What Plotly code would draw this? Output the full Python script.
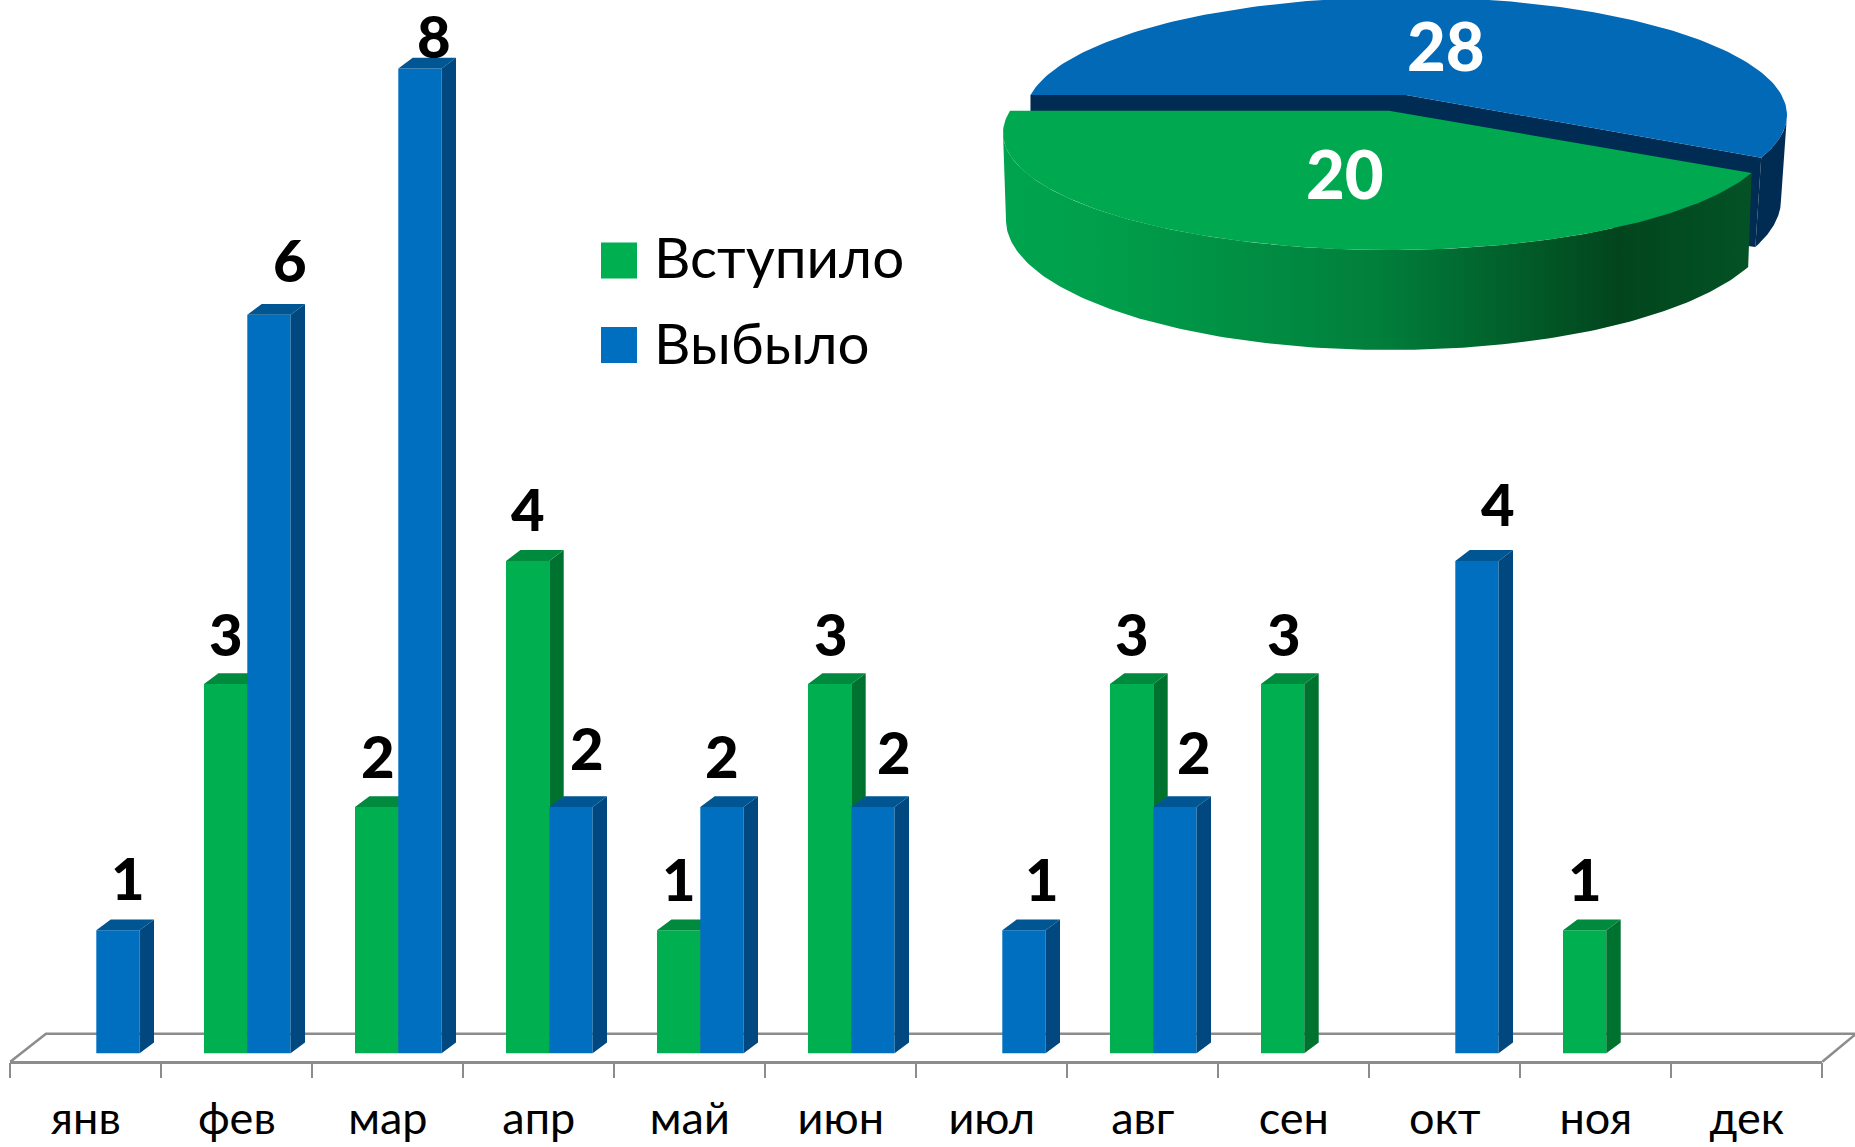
import math
import plotly.graph_objects as go

# ---------- data ----------
months = ["янв", "фев", "мар", "апр", "май", "июн", "июл", "авг", "сен", "окт", "ноя", "дек"]
joined = [None, 3, 2, 4, 1, 3, None, 3, 3, None, 1, None]
left_ = [1, 6, 8, 2, 2, 2, 1, 2, None, 4, None, None]
series_names = ["Вступило", "Выбыло"]
pie_values = [20, 28]

# label nudges (px: right, up from the top centre of each bar's front face)
joined_label_shift = [None, (0, 51), (1, 52), (0, 52), (0, 52), (1, 51), None, (0, 51), (1, 51), None, (0, 52), None]
left_label_shift = [(10, 53), (21, 55), (14, 33), (16, 60), (0, 52), (21, 56), (18, 52), (19, 56), None, (21, 57), None, None]

# ---------- styling ----------
W, H = 1855, 1147
FONT = "Lato, 'Open Sans', sans-serif"
GREEN, GREEN_SIDE, GREEN_TOP = "#00B050", "#00722F", "#008A3E"
BLUE, BLUE_SIDE, BLUE_TOP = "#006FC0", "#00487F", "#005692"
PIE_BLUE, PIE_GREEN, NAVY = "#0269B7", "#00A84F", "#002B52"
AXIS = "#8C8C8C"

X0, X1 = 10.3, 1822.3          # px extent of the axis
Y_BASE, UNIT = 1053.3, 123.1   # px of value 0, px per unit
PXCAT = (X1 - X0) / 12
BAR_W = 43.3 / PXCAT
OFF_G = -32.8 / PXCAT
OFF_B = 10.5 / PXCAT
DX = 14.4 / PXCAT              # 3-D depth in data units
DY = 10.8 / UNIT
yrange = [-(H - Y_BASE) / UNIT, Y_BASE / UNIT]
xrange_ = [-0.5, 11.5]


def faces(vals, off):
    sx, sy, tx, ty = [], [], [], []
    for i, v in enumerate(vals):
        if v is None:
            continue
        l, r = i + off, i + off + BAR_W
        sx += [r, r + DX, r + DX, r, r, None]
        sy += [0, DY, v + DY, v, 0, None]
        tx += [l, r, r + DX, l + DX, l, None]
        ty += [v, v, v + DY, v + DY, v, None]
    return sx, sy, tx, ty


def poly(x, y, color, axes):
    return go.Scatter(x=x, y=y, mode="lines", fill="toself", fillcolor=color,
                      line=dict(width=0), hoverinfo="skip", showlegend=False,
                      xaxis=axes[0], yaxis=axes[1])


fig = go.Figure()
# layer 1: green fronts (category axis carries the labels and ticks)
fig.add_trace(go.Bar(x=months, y=joined, width=BAR_W, offset=OFF_G, name=series_names[0],
                     marker=dict(color=GREEN, line=dict(width=0)), showlegend=False,
                     xaxis="x", yaxis="y"))
# layer 2: green depth faces
gs = faces(joined, OFF_G)
fig.add_trace(poly(gs[0], gs[1], GREEN_SIDE, ("x2", "y2")))
fig.add_trace(poly(gs[2], gs[3], GREEN_TOP, ("x2", "y2")))
# layer 3: blue bars and depth faces
fig.add_trace(go.Bar(x=list(range(12)), y=left_, width=BAR_W, offset=OFF_B, name=series_names[1],
                     marker=dict(color=BLUE, line=dict(width=0)), showlegend=False,
                     xaxis="x3", yaxis="y3"))
bs = faces(left_, OFF_B)
fig.add_trace(poly(bs[0], bs[1], BLUE_SIDE, ("x3", "y3")))
fig.add_trace(poly(bs[2], bs[3], BLUE_TOP, ("x3", "y3")))


# ---------- pie in perspective ----------
def pt(theta_deg, e):
    cx, cy, a, b, p = e
    t = math.radians(theta_deg)
    u, v = -math.cos(t), math.sin(t)
    w = 1 + p * v
    return cx + a * math.sqrt(1 - p * p) * u / w, cy + b * (v + p) / w


def arc(t0, t1, e, n=160):
    pts = [pt(t0 + (t1 - t0) * k / n, e) for k in range(n + 1)]
    return [q[0] for q in pts], [q[1] for q in pts]


G_TOP = (1389, 133, 386, 117, -0.19)
G_BOT = (1390, 220, 384, 130, -0.17)
B_TOP = (1406, 115, 381, 118, -0.169)
B_BOT = (1400, 200, 381, 130, -0.17)
split = 360 * pie_values[0] / sum(pie_values)
PA = ("x4", "y4")


def wall(t0_top, t1_top, t0_bot, t1_bot, top, bot):
    ax, ay = arc(t0_top, t1_top, top)
    bx, by = arc(t0_bot, t1_bot, bot)
    return ax + bx[::-1] + ax[:1], ay + by[::-1] + ay[:1]


# blue outer wall
wx, wy = wall(split, 180 - math.degrees(math.asin(0.169)), split, 180 - math.degrees(math.asin(0.17)), B_TOP, B_BOT)
fig.add_trace(poly(wx, wy, NAVY, PA))
# inner cut face
lc = pt(360, B_TOP)
sc = pt(split, B_TOP)
sb = pt(split, B_BOT)
apex_b = (B_TOP[0], B_TOP[1] + B_TOP[3] * B_TOP[4])
fig.add_trace(poly([lc[0], apex_b[0], sc[0], sb[0], apex_b[0], lc[0], lc[0]],
                   [lc[1], apex_b[1], sc[1], sb[1], 200, 112, lc[1]], NAVY, PA))
# blue top
ax, ay = arc(split, 360, B_TOP)
fig.add_trace(poly(ax + [apex_b[0], ax[0]], ay + [apex_b[1], ay[0]], PIE_BLUE, PA))
# green wall with horizontal gradient
wx, wy = wall(math.degrees(math.asin(0.19)), split, math.degrees(math.asin(0.17)), split, G_TOP, G_BOT)
t = poly(wx, wy, PIE_GREEN, PA)
t.fillgradient = dict(type="horizontal", start=1003, stop=1752,
                      colorscale=[[0, "#00A44E"], [0.12, "#00A04C"], [0.5, "#017F3B"],
                                  [0.82, "#02451D"], [1, "#035226"]])
fig.add_trace(t)
# green top
ax, ay = arc(0, split, G_TOP)
apex_g = (G_TOP[0], G_TOP[1] + G_TOP[3] * G_TOP[4])
fig.add_trace(poly(ax + [apex_g[0], ax[0]], ay + [apex_g[1], ay[0]], PIE_GREEN, PA))

# ---------- annotations ----------
ann = []
label_font = dict(family=FONT, size=58, color="black", weight=900)


def bar_labels(vals, shifts, off, xa, ya):
    for i, v in enumerate(vals):
        if v is None:
            continue
        ann.append(dict(x=i + off + BAR_W / 2, y=v, xref=xa, yref=ya, text=str(v), showarrow=False,
                        xanchor="center", yanchor="middle", xshift=shifts[i][0], yshift=shifts[i][1],
                        font=label_font))


bar_labels(joined, joined_label_shift, OFF_G, "x3", "y3")
bar_labels(left_, left_label_shift, OFF_B, "x3", "y3")

pie_font = dict(family=FONT, size=67, color="white", weight=900)
ann.append(dict(x=1345, y=173, xref="x4", yref="y4", text=str(pie_values[0]), showarrow=False, font=pie_font))
ann.append(dict(x=1446, y=45, xref="x4", yref="y4", text=str(pie_values[1]), showarrow=False, font=pie_font))

leg_font = dict(family=FONT, size=56.5, color="black")
shapes = []
for name, col, top, ymid in [(series_names[0], GREEN, 242.5, 256), (series_names[1], BLUE, 327, 342)]:
    shapes.append(dict(type="rect", xref="paper", yref="paper", x0=601 / W, x1=637 / W,
                       y0=1 - top / H, y1=1 - (top + 36) / H, fillcolor=col, line=dict(width=0)))
    ann.append(dict(x=652 / W, y=1 - ymid / H, xref="paper", yref="paper", text=name, showarrow=False,
                    xanchor="left", yanchor="middle", font=leg_font))

# floor of the 3-D plot (paper coordinates, behind the bars)
FLOOR_F, FLOOR_B = 1061.7, 1033.7
shapes.append(dict(type="path", xref="paper", yref="paper", layer="below",
                   path=f"M {X0/W} {1-FLOOR_F/H} L {46/W} {1-FLOOR_B/H} L 1 {1-FLOOR_B/H}",
                   line=dict(color=AXIS, width=2.5)))
shapes.append(dict(type="line", xref="paper", yref="paper", layer="below",
                   x0=X1 / W, y0=1 - FLOOR_F / H, x1=1, y1=1 - (FLOOR_F - 27) / H,
                   line=dict(color=AXIS, width=2.5)))

hidden_y = dict(range=yrange, visible=False, fixedrange=True)
hidden_x = dict(range=xrange_, visible=False, fixedrange=True)
fig.update_layout(
    width=W, height=H, margin=dict(l=0, r=0, t=0, b=0), autosize=False,
    paper_bgcolor="white", plot_bgcolor="rgba(0,0,0,0)", showlegend=False,
    barmode="overlay",
    annotations=ann, shapes=shapes,
    xaxis=dict(type="category", categoryorder="array", categoryarray=months, tickson="boundaries",
               range=xrange_, domain=[X0 / W, X1 / W], anchor="free", position=1 - FLOOR_F / H,
               automargin=False,
               showline=True, linecolor=AXIS, linewidth=2.5, ticks="outside", tickcolor=AXIS,
               tickwidth=2, ticklen=15, showgrid=False, zeroline=False, fixedrange=True,
               ticklabelstandoff=17,
               tickfont=dict(family=FONT, size=45, color="black")),
    yaxis=dict(**hidden_y, domain=[0, 1]),
    xaxis2=dict(**hidden_x, overlaying="x", anchor="y2"),
    yaxis2=dict(**hidden_y, overlaying="y", anchor="x2"),
    xaxis3=dict(**hidden_x, overlaying="x", anchor="y3"),
    yaxis3=dict(**hidden_y, overlaying="y", anchor="x3"),
    xaxis4=dict(range=[X0, X1], visible=False, fixedrange=True, overlaying="x", anchor="y4"),
    yaxis4=dict(range=[H, 0], visible=False, fixedrange=True, overlaying="y", anchor="x4"),
)
fig.write_html("out.html", config={"displayModeBar": False},
               post_script="document.body.style.margin='0';document.body.style.overflow='hidden';")
